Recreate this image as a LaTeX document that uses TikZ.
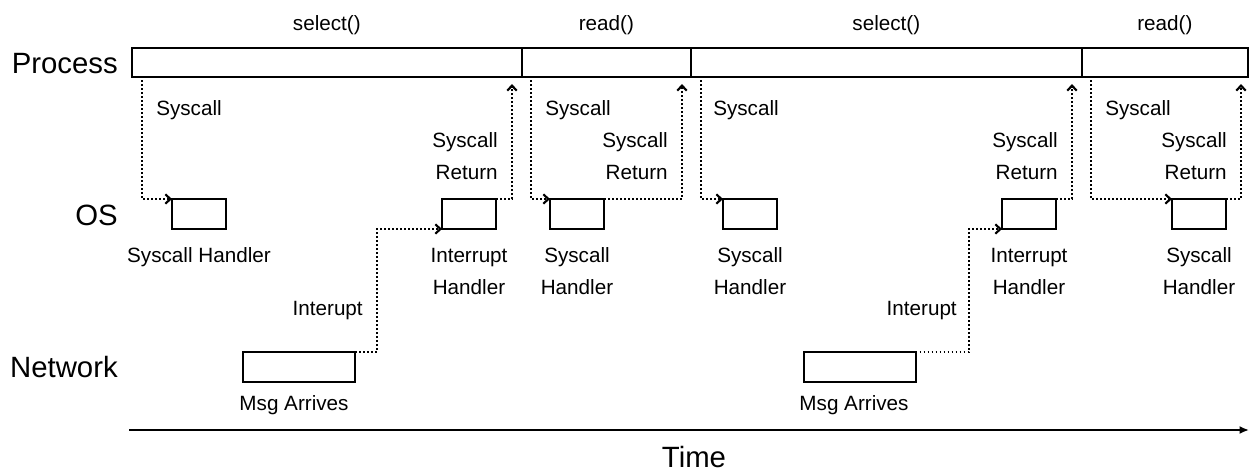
\documentclass[tikz,border=0pt]{standalone}
\usepackage{fontspec}
\setmainfont{Liberation Sans}
\usetikzlibrary{arrows.meta}
\begin{document}
\begin{tikzpicture}[x=0.75pt,y=-0.75pt,
  seg/.style={draw,line width=1.5pt,minimum height=21.75pt,inner sep=0,outer sep=0},
  hbox/.style={draw,line width=1.5pt,minimum width=40.5pt,minimum height=22.5pt,inner sep=0,outer sep=0},
  nbox/.style={hbox,minimum width=84pt},
  lbl/.style={font=\fontsize{15.5pt}{24pt}\selectfont,inner sep=0},
  big/.style={font=\fontsize{22pt}{26pt}\selectfont,inner sep=0},
  dotarrow/.style={line width=1.4pt,dash pattern=on 1.3pt off 1.7pt,
    -{Straight Barb[length=3.8pt,width=7pt,line width=1.6pt]}},
  dotline/.style={line width=1.4pt,dash pattern=on 1.3pt off 1.7pt}
]
\useasboundingbox (0,0) rectangle (1250,472);

% row labels
\node[big,anchor=base east] (lproc) at (118,73) {Process};
\node[big,anchor=base east] (los) at (118,225) {OS};
\node[big,anchor=base east] (lnet) at (118,377) {Network};

% process bar
\node[seg,minimum width=292.3pt] (p1) at (326.85,62.5) {};
\node[seg,minimum width=127pt] (p2) at (606.35,62.5) {};
\node[seg,minimum width=293pt] (p3) at (886.35,62.5) {};
\node[seg,minimum width=124.7pt] (p4) at (1164.85,62.5) {};

% call labels
\node[lbl,anchor=base] (c1) at (326.85,30) {select()};
\node[lbl,anchor=base] (c2) at (606.35,30) {read()};
\node[lbl,anchor=base] (c3) at (886.35,30) {select()};
\node[lbl,anchor=base] (c4) at (1164.85,30) {read()};

% OS boxes
\node[hbox] (h1) at (199,214) {};
\node[hbox] (h2) at (469,214) {};
\node[hbox] (h3) at (577,214) {};
\node[hbox] (h4) at (750,214) {};
\node[hbox] (h5) at (1029,214) {};
\node[hbox] (h6) at (1199,214) {};

% network boxes
\node[nbox] (n1) at (299,367) {};
\node[nbox] (n2) at (859.5,367) {};

% handler labels (base anchor = last line)
\node[lbl,anchor=base] (hl1) at (199,262) {Syscall Handler};
\node[lbl,anchor=base,align=center] (hl2) at (469,294) {Interrupt\\Handler};
\node[lbl,anchor=base,align=center] (hl3) at (577,294) {Syscall\\Handler};
\node[lbl,anchor=base,align=center] (hl4) at (750,294) {Syscall\\Handler};
\node[lbl,anchor=base,align=center] (hl5) at (1029,294) {Interrupt\\Handler};
\node[lbl,anchor=base,align=center] (hl6) at (1199,294) {Syscall\\Handler};

\node[lbl,anchor=base] (m1) at (294,410) {Msg Arrives};
\node[lbl,anchor=base] (m2) at (854,410) {Msg Arrives};

% syscall labels
\node[lbl,anchor=base west] (sl1) at (156,115) {Syscall};
\node[lbl,anchor=base west] (sl2) at (545,115) {Syscall};
\node[lbl,anchor=base west] (sl3) at (713,115) {Syscall};
\node[lbl,anchor=base west] (sl4) at (1105,115) {Syscall};

\node[lbl,anchor=base east,align=right] (rl1) at (498,179) {Syscall\\Return};
\node[lbl,anchor=base east,align=right] (rl2) at (668,179) {Syscall\\Return};
\node[lbl,anchor=base east,align=right] (rl3) at (1058,179) {Syscall\\Return};
\node[lbl,anchor=base east,align=right] (rl4) at (1227,179) {Syscall\\Return};

\node[lbl,anchor=base east] (il1) at (363,315) {Interupt};
\node[lbl,anchor=base east] (il2) at (957,315) {Interupt};

% connector end points
\coordinate (s1) at (142,80);
\coordinate (s2) at (531,80);
\coordinate (s3) at (701,80);
\coordinate (s4) at (1091,80);
\coordinate (r1) at (512,84);
\coordinate (r2) at (682,84);
\coordinate (r3) at (1072,84);
\coordinate (r4) at (1241,84);
\coordinate (i1) at (377,290);
\coordinate (i2) at (969,290);

% syscalls
\draw[dotarrow] (s1) |- (h1.north west);
\draw[dotarrow] (s2) |- (h3.north west);
\draw[dotarrow] (s3) |- (h4.north west);
\draw[dotarrow] (s4) |- (h6.north west);
% returns
\draw[dotarrow] (h2.north east) -| (r1);
\draw[dotarrow] (h3.north east) -| (r2);
\draw[dotarrow] (h5.north east) -| (r3);
\draw[dotarrow] (h6.north east) -| (r4);
% interrupts
\draw[dotline] (n1.north east) -| (i1);
\draw[dotarrow] (i1) |- (h2.south west);
\draw[dotline] (n2.north east) -| (i2);
\draw[dotarrow] (i2) |- (h5.south west);

% time axis
\coordinate (t0) at (129,430);
\coordinate (t1) at (1249,430);
\draw[line width=1.5pt,-{Latex[length=7pt,width=6pt]}] (t0) -- (t1);
\node[big,anchor=base] (ltime) at (694,467) {Time};
\end{tikzpicture}
\end{document}
